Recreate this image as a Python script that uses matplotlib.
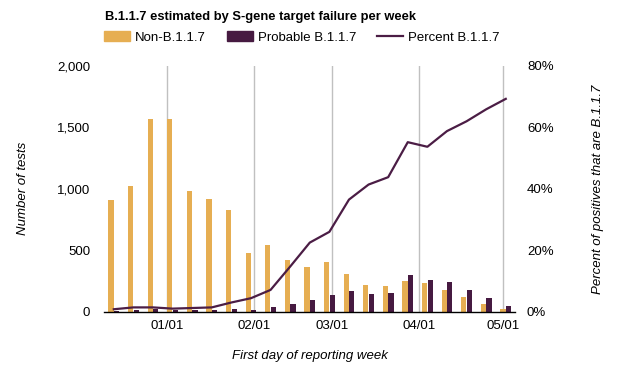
import pandas as pd
import matplotlib
matplotlib.use("Agg")
import matplotlib.pyplot as plt
import matplotlib.dates as mdates
from matplotlib.patches import Patch
from matplotlib.lines import Line2D
from matplotlib.ticker import FuncFormatter

plt.rcParams['font.family'] = ['Liberation Sans', 'DejaVu Sans']

# weekly data, first day of reporting week
weeks = pd.date_range('2020-12-13', periods=21, freq='7D')
non_b117 = [912, 1026, 1565, 1565, 985, 920, 830, 476, 541, 418, 362,
            402, 304, 214, 206, 247, 231, 173, 116, 60, 18]
probable_b117 = [7, 14, 21, 16, 12, 13, 25, 16, 36, 65, 98,
                 132, 170, 147, 155, 301, 261, 245, 180, 114, 49]
percent_b117 = [0.8, 1.4, 1.4, 1.0, 1.2, 1.4, 3.0, 4.4, 7.1, 14.7, 22.5,
                26.0, 36.5, 41.4, 43.8, 55.2, 53.7, 58.8, 62.0, 65.9, 69.3]

ORANGE = '#E6AE52'
PURPLE = '#461A41'
LINE = '#4B1D45'
FS = 9.5

fig = plt.figure(figsize=(6.17, 3.74), dpi=100)
ax = fig.add_axes([104 / 617, 62.3 / 374, 411 / 617, 245.7 / 374])

off = pd.Timedelta(days=1.0)
ax.bar(weeks - off, non_b117, width=1.9, color=ORANGE, zorder=2)
ax.bar(weeks + off, probable_b117, width=1.9, color=PURPLE, zorder=2)

ax.set_ylim(0, 2000)
ax.set_yticks([0, 500, 1000, 1500, 2000])
ax.yaxis.set_major_formatter(FuncFormatter(lambda v, p: f'{int(v):,}'))
ax.set_xlim(weeks[0] - pd.Timedelta(days=3.5), weeks[-1] + pd.Timedelta(days=3.3))
ax.xaxis.set_major_locator(mdates.MonthLocator(bymonth=[1, 2, 3, 4, 5]))
ax.xaxis.set_major_formatter(mdates.DateFormatter('%m/%d'))
ax.grid(axis='x', color='#C0C0C0', linewidth=1.0, zorder=0)

for s in ['top', 'left', 'right']:
    ax.spines[s].set_visible(False)
ax.spines['bottom'].set_linewidth(1.0)
ax.tick_params(axis='both', length=0, labelsize=FS)
ax.tick_params(axis='x', pad=6)
ax.tick_params(axis='y', pad=10)

ax.set_ylabel('Number of tests', fontsize=FS, style='italic', labelpad=20)
ax.set_xlabel('First day of reporting week', fontsize=FS, style='italic', labelpad=13)

ax2 = ax.twinx()
ax2.plot(weeks, percent_b117, color=LINE, linewidth=1.6, zorder=3)
ax2.set_ylim(0, 80)
ax2.set_yticks([0, 20, 40, 60, 80])
ax2.yaxis.set_major_formatter(FuncFormatter(lambda v, p: f'{int(v)}%'))
for s in ax2.spines.values():
    s.set_visible(False)
ax2.tick_params(axis='y', length=0, labelsize=FS, pad=8.6)
ax2.set_ylabel('Percent of positives that are B.1.1.7', fontsize=FS,
               style='italic', labelpad=28)

fig.text(105 / 617, 1 - 17 / 374, 'B.1.1.7 estimated by S-gene target failure per week',
         fontsize=9.3, fontweight='bold', va='center', ha='left')

handles = [Patch(color=ORANGE), Patch(color=PURPLE),
           Line2D([0], [0], color=LINE, linewidth=1.6)]
fig.legend(handles, ['Non-B.1.1.7', 'Probable B.1.1.7', 'Percent B.1.1.7'],
           loc='center left', bbox_to_anchor=(104 / 617, 1 - 37.5 / 374),
           ncol=3, frameon=False, fontsize=FS, borderpad=0, borderaxespad=0,
           handlelength=1.97, handleheight=0.83, handletextpad=0.38, columnspacing=1.6)

fig.savefig('out.png', dpi=100)
